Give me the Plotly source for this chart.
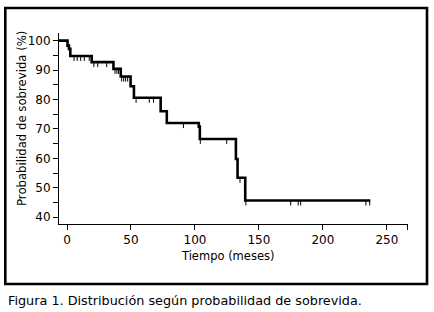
import plotly.graph_objects as go

# Kaplan-Meier step data (time in months, survival in %)
event_times = [0, 0.4, 1.5, 2.6, 19.3, 36.3, 42.0, 49.7, 52.3, 73.2, 78.0, 103.0, 103.8, 132.0, 133.3, 139.3]
surv_pct = [100, 98.3, 97.2, 94.8, 92.7, 90.4, 87.8, 84.5, 80.6, 76.0, 72.0, 70.8, 66.6, 59.8, 53.4, 45.7]
end_time = 237.0

# censored observations (times)
censor_times = [5.5, 8.0, 10.7, 13.5, 17.4, 21.0, 24.0, 31.0, 37.5, 39.0, 40.3,
                42.7, 44.3, 45.8, 47.4, 54.0, 64.3, 67.6, 91.0, 104.2, 124.8,
                135.2, 139.8, 174.8, 180.7, 182.6, 233.6, 236.6]

x_ticks = [0, 50, 100, 150, 200, 250]
y_ticks = [40, 45, 50, 55, 60, 65, 70, 75, 80, 85, 90, 95, 100]
y_labels = ["40", "", "50", "", "60", "", "70", "", "80", "", "90", "", "100"]

title_x = "Tiempo (meses)"
title_y = "Probabilidad de sobrevida (%)"
caption = "Figura 1. Distribución según probabilidad de sobrevida."

X_MIN, X_MAX = -6.25, 266.5
Y_MIN, Y_MAX = 37.7, 102.6
TICK_DROP = 1.7


def surv_at(t):
    s = surv_pct[0]
    for et, sv in zip(event_times, surv_pct):
        if et <= t:
            s = sv
    return s


# the curve is drawn from the y axis onwards
step_x = [X_MIN] + event_times[1:] + [end_time]
step_y = surv_pct + [surv_pct[-1]]

cx, cy = [], []
for t in censor_times:
    s = surv_at(t)
    cx += [t, t, None]
    cy += [s, s - TICK_DROP, None]

fig = go.Figure()
fig.add_trace(go.Scatter(x=step_x, y=step_y, mode="lines", line_shape="hv",
                         line=dict(color="black", width=2.6), hoverinfo="skip"))
fig.add_trace(go.Scatter(x=cx, y=cy, mode="lines",
                         line=dict(color="black", width=1), hoverinfo="skip"))

font = "DejaVu Sans"
W, H = 434, 312
L, R, T, B = 59, 26, 33, 88
pw, ph = W - L - R, H - T - B


def px_x(p):
    return (p - L) / pw


def px_y(p):
    return (H - B - p) / ph


fig.update_layout(
    width=W, height=H,
    margin=dict(l=L, r=R, t=T, b=B, pad=0),
    paper_bgcolor="white", plot_bgcolor="white",
    showlegend=False,
    font=dict(family=font, size=11, color="black"),
    xaxis=dict(range=[X_MIN, X_MAX], tickvals=x_ticks + [266.2],
               ticktext=[str(v) for v in x_ticks] + [""],
               ticks="outside", ticklen=5, tickwidth=1, tickcolor="black",
               showline=True, linecolor="black", linewidth=1,
               showgrid=False, zeroline=False,
               tickfont=dict(family=font, size=12, color="black")),
    yaxis=dict(range=[Y_MIN, Y_MAX], tickvals=y_ticks, ticktext=y_labels,
               ticks="outside", ticklen=5, tickwidth=1, tickcolor="black",
               showline=True, linecolor="black", linewidth=1,
               showgrid=False, zeroline=False,
               tickfont=dict(family=font, size=12, color="black")),
    shapes=[dict(type="rect", xref="paper", yref="paper",
                 x0=px_x(5.3), x1=px_x(427), y0=px_y(284), y1=px_y(8),
                 line=dict(color="black", width=2.6), fillcolor="rgba(0,0,0,0)")],
    annotations=[
        dict(text=title_x, xref="paper", yref="paper", x=px_x(227), y=px_y(256),
             showarrow=False, xanchor="center", yanchor="middle",
             font=dict(family=font, size=11.5, color="black")),
        dict(text=title_y, xref="paper", yref="paper", x=px_x(22), y=px_y(119),
             showarrow=False, textangle=-90, xanchor="center", yanchor="middle",
             font=dict(family=font, size=11.7, color="black")),
        dict(text=caption, xref="paper", yref="paper", x=px_x(6), y=px_y(300),
             showarrow=False, xanchor="left", yanchor="middle",
             font=dict(family=font, size=12.8, color="black")),
    ],
)

fig.write_html("out.html", config={"displayModeBar": False},
               post_script="document.body.style.margin='0';document.body.style.padding='0';")
